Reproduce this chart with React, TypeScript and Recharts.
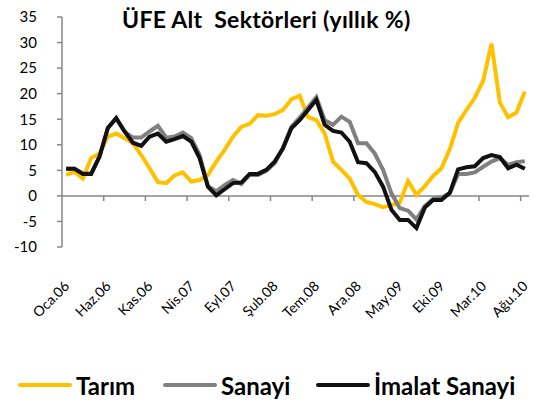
import { LineChart, Line, XAxis, YAxis, ReferenceLine } from 'recharts'

// months Oca.06 .. Ağu.10
const monthNames = ['Oca', 'Şub', 'Mar', 'Nis', 'May', 'Haz', 'Tem', 'Ağu', 'Eyl', 'Eki', 'Kas', 'Ara']
const years = ['06', '07', '08', '09', '10']
const months: string[] = []
years.forEach((y) => monthNames.forEach((m) => months.push(`${m}.${y}`)))
const categories = months.slice(0, 56)

const tarim = [
  4.1, 4.7, 3.4, 7.4, 8.3, 11.6, 12.2, 11.3, 10.3, 8.0, 5.4, 2.7,
  2.5, 4.0, 4.6, 2.8, 3.1, 4.1, 6.7, 9.0, 11.6, 13.5, 14.1, 15.8,
  15.7, 16.0, 16.8, 18.9, 19.6, 15.4, 14.8, 12.2, 6.7, 5.1, 3.4, 0.2,
  -1.2, -1.6, -2.2, -1.8, -1.3, 2.9, 0.2, 1.9, 3.9, 5.4, 9.1, 14.3,
  16.8, 19.2, 22.5, 29.8, 18.3, 15.4, 16.3, 20.4,
]

const sanayi = [
  5.3, 5.3, 4.4, 4.4, 7.7, 13.3, 15.2, 12.6, 11.4, 11.4, 12.6, 13.7,
  11.4, 11.6, 12.4, 11.3, 8.0, 1.9, 0.9, 2.1, 3.1, 2.3, 4.1, 4.1,
  4.9, 6.4, 9.4, 13.5, 15.3, 17.3, 19.3, 14.8, 13.9, 15.5, 14.5, 10.3,
  10.3, 8.3, 5.1, 0.5, -2.4, -2.9, -4.6, -2.0, -0.6, -0.3, 0.5, 4.3,
  4.3, 4.6, 5.7, 6.7, 7.4, 6.1, 6.6, 6.8,
]

const imalat = [
  5.3, 5.3, 4.3, 4.3, 7.7, 13.3, 15.2, 12.6, 10.4, 9.8, 11.6, 12.2,
  10.6, 11.1, 11.7, 10.6, 7.4, 1.8, 0.1, 1.3, 2.5, 2.6, 4.3, 4.3,
  5.1, 6.7, 9.3, 13.2, 14.8, 16.8, 18.8, 13.9, 12.7, 12.4, 10.6, 6.6,
  6.4, 4.7, 1.8, -2.7, -4.7, -4.7, -6.3, -2.3, -0.8, -0.8, 0.6, 5.2,
  5.6, 5.8, 7.4, 8.0, 7.6, 5.4, 6.1, 5.3,
]

const yTicks = [-10, -5, 0, 5, 10, 15, 20, 25, 30, 35]
const labelTicks = [0, 5, 10, 15, 20, 25, 30, 35, 40, 45, 50, 55]
const boundaryTicks = [4.5, 9.5, 14.5, 19.5, 24.5, 29.5, 34.5, 39.5, 44.5, 49.5, 54.5]

const data = categories.map((name, i) => ({
  i,
  name,
  tarim: tarim[i],
  sanayi: sanayi[i],
  imalat: imalat[i],
}))

const FONT = 'Lato, "Open Sans", sans-serif'
const AXIS = '#868686'

function MonthTick(props: any) {
  const { x, y, payload } = props
  const ax = x + 4
  return (
    <text
      x={ax}
      y={y}
      transform={`rotate(-45 ${ax} ${y})`}
      textAnchor="end"
      fontSize={14}
      fontFamily={FONT}
      fill="#000"
    >
      {categories[payload.value]}
    </text>
  )
}

const legendItems = [
  { label: 'Tarım', color: '#FFC000', left: 18 },
  { label: 'Sanayi', color: '#808080', left: 163 },
  { label: 'İmalat Sanayi', color: '#111111', left: 316 },
]

export default function App() {
  return (
    <div style={{ position: 'absolute', left: 0, top: 0, width: 537, height: 403, background: '#fff', fontFamily: FONT }}>
      <div
        style={{
          position: 'absolute',
          left: 122,
          top: 4,
          fontSize: 23,
          fontWeight: 700,
          letterSpacing: 0.3,
          whiteSpace: 'pre',
          lineHeight: '30px',
        }}
      >
        {'ÜFE Alt  Sektörleri (yıllık %)'}
      </div>
      <LineChart width={537} height={403} data={data} margin={{ top: 17, right: 8, left: 0, bottom: 0 }}>
        <XAxis
          dataKey="i"
          type="number"
          domain={[-0.5, 55.5]}
          ticks={labelTicks}
          interval={0}
          axisLine={false}
          tickLine={false}
          height={156}
          tick={<MonthTick />}
          tickMargin={34}
        />
        <YAxis
          domain={[-10, 35]}
          ticks={yTicks}
          width={62}
          axisLine={{ stroke: AXIS, strokeWidth: 1.5 }}
          tickLine={{ stroke: AXIS, strokeWidth: 1.5 }}
          tickSize={5}
          tickMargin={20}
          tick={{ fontSize: 15, fill: '#000', fontFamily: FONT }}
          interval={0}
        />
        <ReferenceLine y={0} stroke={AXIS} strokeWidth={1.5} />
        {boundaryTicks.map((b) => (
          <ReferenceLine
            key={b}
            segment={[{ x: b, y: 0 }, { x: b, y: -1 }]}
            stroke={AXIS}
            strokeWidth={1.5}
          />
        ))}
        <Line dataKey="tarim" stroke="#FFC000" strokeWidth={4} dot={false} isAnimationActive={false} />
        <Line dataKey="sanayi" stroke="#808080" strokeWidth={4} dot={false} isAnimationActive={false} />
        <Line dataKey="imalat" stroke="#111111" strokeWidth={4} dot={false} isAnimationActive={false} />
      </LineChart>
      {legendItems.map((item) => (
        <div
          key={item.label}
          style={{ position: 'absolute', left: item.left, top: 370, display: 'flex', alignItems: 'center', height: 30 }}
        >
          <div style={{ width: 54, height: 4, borderRadius: 2, background: item.color }} />
          <span style={{ marginLeft: 4, fontSize: 24, fontWeight: 700, color: '#000' }}>{item.label}</span>
        </div>
      ))}
    </div>
  )
}
